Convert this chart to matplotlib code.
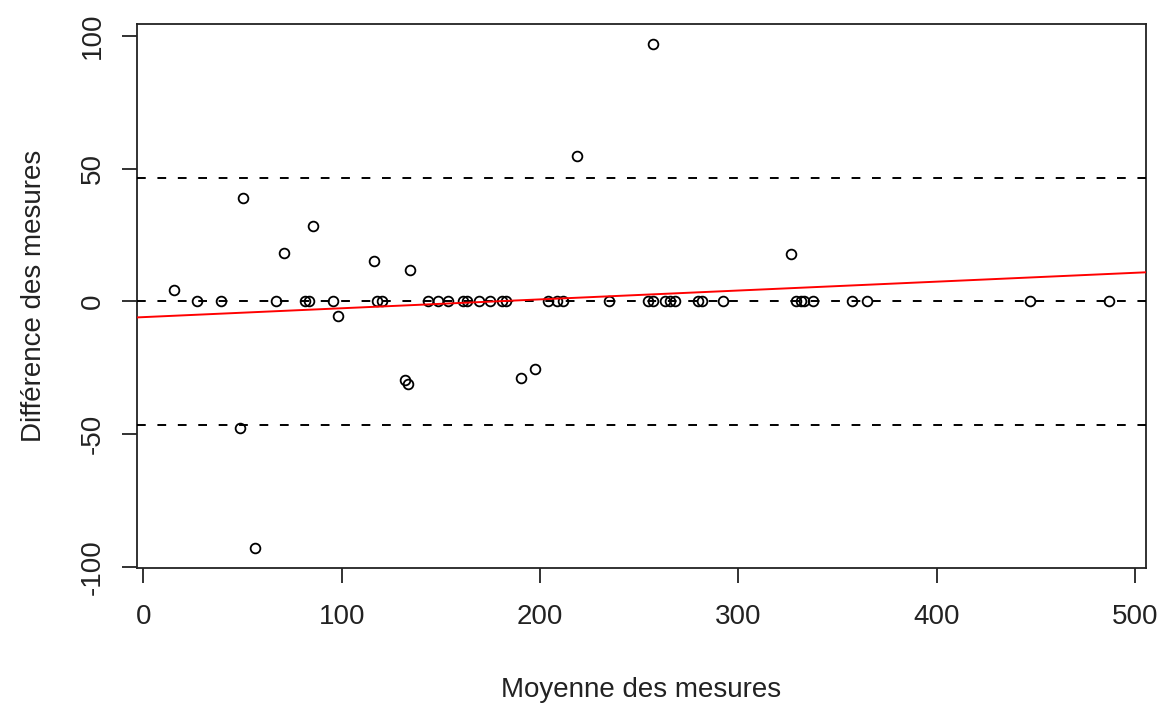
"""
Bland-Altman style plot: difference vs mean of two measurements
"""
import matplotlib.pyplot as plt
import numpy as np

# points lying on the zero line (mean of the two measures)
zero_x = [26.9, 39.2, 66.9, 81.6, 83.6, 95.6, 117.9, 120.4, 143.6, 148.7,
          153.7, 161.3, 163.3, 169.4, 175.0, 181.0, 183.0, 204.2, 208.7, 211.8,
          235.0, 254.6, 257.2, 263.2, 265.8, 268.3, 279.9, 281.9, 292.5, 329.3,
          331.8, 333.0, 337.5, 357.1, 364.7, 446.9, 486.7]

# points with a non-zero difference
other_x = [15.5, 50.3, 71.0, 85.6, 98.2, 116.4, 134.6, 132.1, 133.6,
           190.2, 197.7, 218.8, 256.8, 326.8, 48.8, 56.4]
other_y = [4.5, 38.8, 18.1, 28.6, -5.6, 15.4, 11.7, -29.4, -30.9,
           -29.0, -25.6, 54.6, 96.8, 17.7, -47.8, -92.7]

mean_diff = 0.0
upper_lim = 46.4
lower_lim = -46.4
reg_intercept = -5.9
reg_slope = 0.0334

x = np.array(zero_x + other_x)
y = np.array([0.0] * len(zero_x) + other_y)

plt.rcParams["font.family"] = ["Liberation Sans", "DejaVu Sans"]
plt.rcParams["axes.unicode_minus"] = False

fig = plt.figure(figsize=(11.67, 7.07), dpi=100)
ax = fig.add_axes([0.1171, 0.197, 0.8649, 0.7686])

ax.plot(x, y, "o", ms=7.0, mfc="none", mec="black", mew=1.3, zorder=2)

for lvl in [mean_diff, upper_lim, lower_lim]:
    ax.axhline(lvl, color="black", lw=1.4, dashes=(4.5, 6.0), zorder=3)
ax.axline((0, reg_intercept), slope=reg_slope, color="red", lw=1.4, zorder=3)

# R style 4% extension of the data range
def r_lim(v):
    r = v.max() - v.min()
    return v.min() - 0.04 * r, v.max() + 0.04 * r

ax.set_xlim(*r_lim(x))
ax.set_ylim(*r_lim(y))

ax.set_xticks([0, 100, 200, 300, 400, 500])
ax.set_yticks([-100, -50, 0, 50, 100])
ax.tick_params(direction="out", length=11, width=1.3, labelsize=20,
               color="#222222", labelcolor="#222222")
ax.tick_params(axis="x", pad=15)
ax.tick_params(axis="y", pad=11)
for lab in ax.get_yticklabels():
    lab.set_rotation(90)
    lab.set_va("center")
for s in ax.spines.values():
    s.set_linewidth(1.3)
    s.set_color("#222222")

ax.set_xlabel("Moyenne des mesures", fontsize=20, color="#222222", labelpad=34)
ax.set_ylabel("Différence des mesures", fontsize=20, color="#222222", labelpad=24)

plt.savefig("out.png", dpi=100)
